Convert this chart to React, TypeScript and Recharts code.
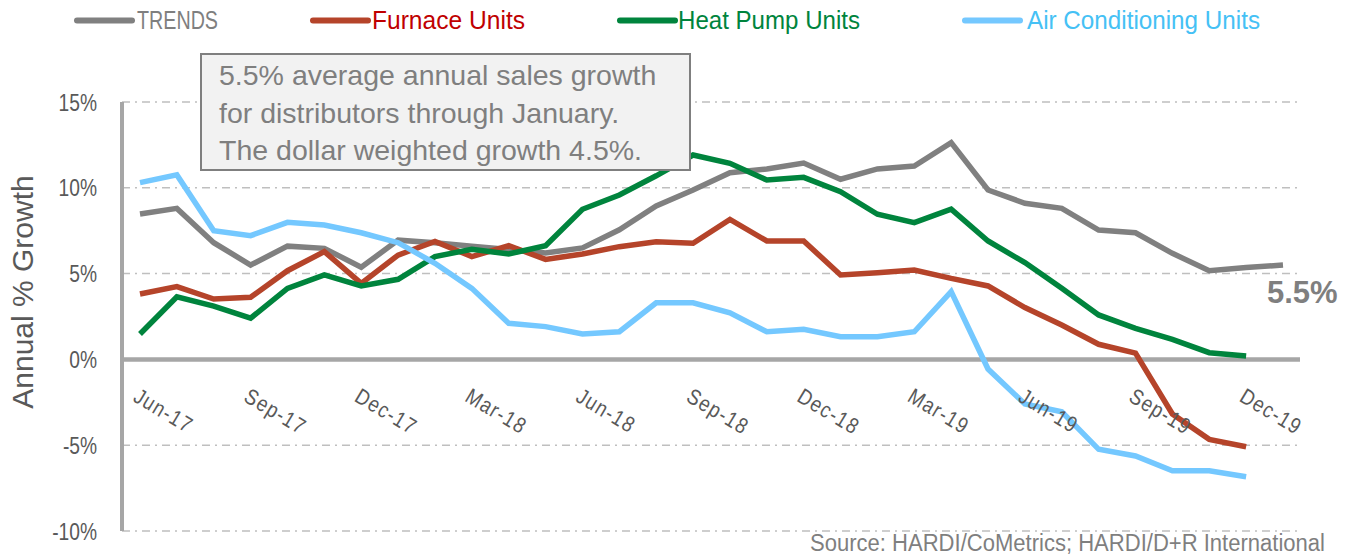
import React from 'react';
import { LineChart, Line, XAxis, YAxis, CartesianGrid, ReferenceLine } from 'recharts';

// monthly points, Jun-17 .. Jan-20 (TRENDS has one more month than the unit series)
const months = [
  'Jun-17', 'Jul-17', 'Aug-17', 'Sep-17', 'Oct-17', 'Nov-17', 'Dec-17',
  'Jan-18', 'Feb-18', 'Mar-18', 'Apr-18', 'May-18', 'Jun-18', 'Jul-18', 'Aug-18', 'Sep-18', 'Oct-18', 'Nov-18', 'Dec-18',
  'Jan-19', 'Feb-19', 'Mar-19', 'Apr-19', 'May-19', 'Jun-19', 'Jul-19', 'Aug-19', 'Sep-19', 'Oct-19', 'Nov-19', 'Dec-19',
  'Jan-20',
];

const trends = [
  8.47, 8.8, 6.8, 5.5, 6.6, 6.47, 5.37, 6.95, 6.8, 6.6, 6.4, 6.2, 6.5, 7.55, 8.94, 9.87,
  10.88, 11.1, 11.44, 10.5, 11.1, 11.27, 12.63, 9.87, 9.1, 8.8, 7.54, 7.38, 6.18, 5.17, 5.35, 5.5,
];

const furnace = [
  3.81, 4.24, 3.52, 3.62, 5.17, 6.28, 4.43, 6.08, 6.88, 5.99, 6.63, 5.83, 6.14, 6.57, 6.86, 6.77,
  8.16, 6.9, 6.9, 4.92, 5.05, 5.21, 4.72, 4.28, 3.02, 2.0, 0.88, 0.37, -3.18, -4.66, -5.09,
];

const heatPump = [
  1.48, 3.65, 3.11, 2.4, 4.14, 4.92, 4.28, 4.67, 5.99, 6.42, 6.14, 6.63, 8.75, 9.58, 10.7, 11.91,
  11.43, 10.45, 10.61, 9.77, 8.46, 7.97, 8.75, 6.9, 5.64, 4.14, 2.59, 1.81, 1.17, 0.39, 0.2,
];

const airCond = [
  10.3, 10.75, 7.5, 7.21, 7.99, 7.83, 7.38, 6.8, 5.6, 4.14, 2.1, 1.91, 1.48, 1.61, 3.3, 3.3,
  2.72, 1.61, 1.75, 1.32, 1.32, 1.61, 3.95, -0.56, -2.6, -3.05, -5.24, -5.63, -6.49, -6.49, -6.84,
];

const yTicks = [-10, -5, 0, 5, 10, 15];

const noteLines = [
  '5.5% average annual sales growth',
  'for distributors through January.',
  'The dollar weighted growth 4.5%.',
];

const data = months.map((month, i) => ({
  month,
  trends: trends[i] ?? null,
  furnace: furnace[i] ?? null,
  heatPump: heatPump[i] ?? null,
  airCond: airCond[i] ?? null,
}));

const W = 1354;
const H = 558;
const TOP = 102;
const X_AXIS_H = 27;
const PLOT_H = H - TOP - X_AXIS_H;
const ZERO_Y = TOP + (PLOT_H * 15) / 25;

const SANS = "'Liberation Sans', Arial, sans-serif";

// legend text is squeezed with textLength to mimic the condensed face of the original
const series = [
  { key: 'trends', name: 'TRENDS', color: '#808080', text: '#7F7F7F', lineX: 77, textX: 137, len: 81 },
  { key: 'furnace', name: 'Furnace Units', color: '#B5442A', text: '#C00000', lineX: 313, textX: 372, len: 153 },
  { key: 'heatPump', name: 'Heat Pump Units', color: '#00843D', text: '#00843D', lineX: 620, textX: 678, len: 182 },
  { key: 'airCond', name: 'Air Conditioning Units', color: '#74C8FF', text: '#45C1F5', lineX: 965, textX: 1027, len: 233 },
];

const MonthTick = (props: any) => {
  const { x, payload } = props;
  const ax = x - 8;
  const ay = ZERO_Y + 41;
  return (
    <text
      x={0}
      y={0}
      transform={`translate(${ax} ${ay}) rotate(31) scale(0.85 1)`}
      fill="#595959"
      fontSize={22}
      fontFamily={SANS}
      letterSpacing={1.5}
    >
      {payload.value}
    </text>
  );
};

const ValueTick = (props: any) => {
  const { x, y, payload } = props;
  return (
    <text
      x={0}
      y={0}
      dy="0.36em"
      transform={`translate(${x} ${y}) scale(0.8 1)`}
      textAnchor="end"
      fill="#595959"
      fontSize={24}
      fontFamily={SANS}
    >
      {payload.value}%
    </text>
  );
};

const EndLabel = (props: any) => {
  const { x, y, value, index } = props;
  if (index !== trends.length - 1) return null;
  return (
    <text x={x - 16} y={y + 38} fill="#7F7F7F" fontSize={31} fontWeight="bold" fontFamily={SANS}>
      {value}%
    </text>
  );
};

const App: React.FC = () => {
  return (
    <div style={{ position: 'absolute', left: 0, top: 0, width: W, height: H, background: '#fff' }}>
      <LineChart width={W} height={H} data={data} margin={{ top: TOP, right: 54, bottom: 0, left: 0 }}>
        <CartesianGrid vertical={false} stroke="#BFBFBF" strokeWidth={1.5} strokeDasharray="8 5 2 5" />
        <XAxis
          dataKey="month"
          height={X_AXIS_H}
          axisLine={false}
          tickLine={false}
          interval={2}
          padding={{ left: 18, right: 17 }}
          tick={<MonthTick />}
        />
        <YAxis
          width={122}
          domain={[-10, 15]}
          ticks={yTicks}
          axisLine={{ stroke: '#A6A6A6', strokeWidth: 4 }}
          tickLine={false}
          tickSize={0}
          tickMargin={25}
          tick={<ValueTick />}
        />
        <ReferenceLine y={0} stroke="#A6A6A6" strokeWidth={4.5} />
        {series.map((s) => (
          <Line
            key={s.key}
            type="linear"
            dataKey={s.key}
            stroke={s.color}
            strokeWidth={5.5}
            dot={false}
            connectNulls={false}
            isAnimationActive={false}
            label={s.key === 'trends' ? <EndLabel /> : undefined}
          />
        ))}
      </LineChart>

      <svg width={W} height={H} style={{ position: 'absolute', left: 0, top: 0, pointerEvents: 'none' }}>
        {/* legend */}
        {series.map((s) => (
          <g key={s.key}>
            <line x1={s.lineX} x2={s.lineX + 55} y1={20.5} y2={20.5} stroke={s.color} strokeWidth={6} strokeLinecap="round" />
            <text
              x={s.textX}
              y={29}
              fill={s.text}
              fontSize={26}
              fontFamily={SANS}
              textLength={s.len}
              lengthAdjust="spacingAndGlyphs"
            >
              {s.name}
            </text>
          </g>
        ))}

        {/* note box */}
        <rect x={201} y={54} width={489} height={116} fill="#F2F2F2" stroke="#7F7F7F" strokeWidth={2} />
        {noteLines.map((t, i) => (
          <text key={i} x={219} y={85 + i * 37.5} fill="#7F7F7F" fontSize={28.5} fontFamily={SANS}>
            {t}
          </text>
        ))}

        <text
          x={33}
          y={292}
          transform="rotate(-90 33 292)"
          textAnchor="middle"
          fill="#595959"
          fontSize={30}
          fontFamily={SANS}
        >
          Annual % Growth
        </text>

        <text
          x={810}
          y={551}
          fill="#7F7F7F"
          fontSize={23}
          fontFamily={SANS}
          textLength={515}
          lengthAdjust="spacingAndGlyphs"
        >
          Source: HARDI/CoMetrics; HARDI/D+R International
        </text>
      </svg>
    </div>
  );
};

export default App;
